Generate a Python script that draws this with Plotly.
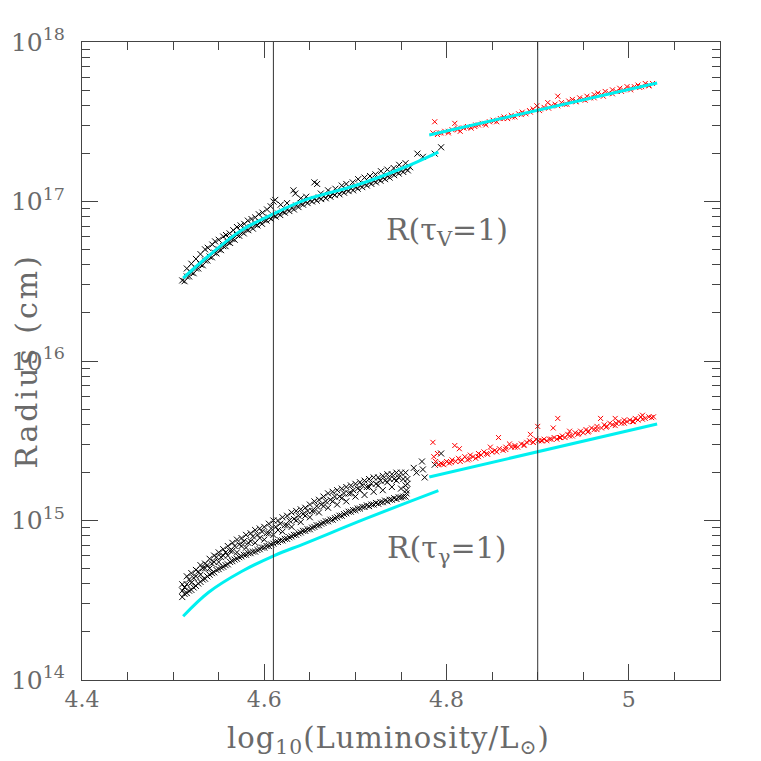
"""Radius of tau=1 surfaces versus luminosity."""

import plotly.graph_objects as go

# ---- data (x = log10 L/Lsun, values = log10 R/cm) ----

# upper black cloud, R(tau_V = 1): dense band along the model curve
vis_black_x1 = [4.510, 4.515, 4.520, 4.525, 4.530, 4.535, 4.540, 4.545, 4.550, 4.555,
                4.560, 4.565, 4.570, 4.575, 4.580, 4.585, 4.590, 4.595, 4.600, 4.605,
                4.610, 4.615, 4.620, 4.625, 4.630, 4.635, 4.640, 4.645, 4.650, 4.655,
                4.660, 4.665, 4.670, 4.675, 4.680, 4.685, 4.690, 4.695, 4.700, 4.705,
                4.710, 4.715, 4.720, 4.725, 4.730, 4.735, 4.740, 4.745, 4.750, 4.755,
                4.760]
vis_black_logr1 = [16.505, 16.53, 16.555, 16.58, 16.605, 16.63, 16.655, 16.68, 16.70, 16.72,
                   16.745, 16.765, 16.79, 16.81, 16.825, 16.84, 16.855, 16.87, 16.885, 16.90,
                   16.912, 16.925, 16.937, 16.95, 16.96, 16.975, 16.987, 17.00, 17.008, 17.016,
                   17.025, 17.033, 17.04, 17.05, 17.057, 17.065, 17.074, 17.082, 17.09, 17.10,
                   17.11, 17.12, 17.13, 17.14, 17.15, 17.16, 17.175, 17.185, 17.195, 17.205,
                   17.215]
vis_black_x2 = [4.5125, 4.5175, 4.5225, 4.5275, 4.5325, 4.5375, 4.5425, 4.5475, 4.5525, 4.5575,
                4.5625, 4.5675, 4.5725, 4.5775, 4.5825, 4.5875, 4.5925, 4.5975, 4.6025, 4.6075,
                4.6125, 4.6175, 4.6225, 4.6275, 4.6325, 4.6375, 4.6425, 4.6475, 4.6525, 4.6575,
                4.6625, 4.6675, 4.6725, 4.6775, 4.6825, 4.6875, 4.6925, 4.6975, 4.7025, 4.7075,
                4.7125, 4.7175, 4.7225, 4.7275, 4.7325, 4.7375, 4.7425, 4.7475, 4.7525, 4.7575]
vis_black_logr2 = [16.50, 16.53, 16.55, 16.58, 16.60, 16.63, 16.65, 16.675, 16.695, 16.72,
                   16.74, 16.76, 16.785, 16.80, 16.82, 16.83, 16.85, 16.86, 16.88, 16.89,
                   16.905, 16.915, 16.93, 16.94, 16.95, 16.965, 16.98, 16.99, 17.00, 17.005,
                   17.015, 17.02, 17.03, 17.04, 17.045, 17.055, 17.065, 17.07, 17.08, 17.09,
                   17.10, 17.11, 17.12, 17.13, 17.14, 17.15, 17.165, 17.175, 17.185, 17.195]
# points scattered above the band
vis_black_x3 = [4.515, 4.520, 4.525, 4.530, 4.535, 4.538, 4.543, 4.546, 4.550, 4.555,
                4.558, 4.562, 4.566, 4.570, 4.574, 4.578, 4.582, 4.586, 4.590, 4.594,
                4.598, 4.603, 4.607, 4.610, 4.612, 4.618, 4.625, 4.632, 4.634, 4.640,
                4.646, 4.655, 4.658, 4.662, 4.670, 4.678, 4.685, 4.690, 4.697, 4.703,
                4.710, 4.716, 4.722, 4.728, 4.735, 4.742, 4.748, 4.755, 4.768, 4.774,
                4.787, 4.794]
vis_black_logr3 = [16.58, 16.61, 16.64, 16.67, 16.70, 16.71, 16.73, 16.75, 16.76, 16.78,
                   16.79, 16.80, 16.82, 16.84, 16.85, 16.86, 16.88, 16.89, 16.90, 16.92,
                   16.93, 16.95, 16.97, 17.00, 17.01, 16.98, 16.99, 17.07, 17.05, 17.02,
                   17.03, 17.12, 17.11, 17.05, 17.07, 17.08, 17.10, 17.11, 17.12, 17.14,
                   17.15, 17.16, 17.17, 17.19, 17.20, 17.21, 17.23, 17.24, 17.30, 17.28,
                   17.30, 17.34]

# upper red cloud, R(tau_V = 1)
vis_red_x = [4.785, 4.787, 4.790, 4.794, 4.798, 4.802, 4.806, 4.809, 4.812, 4.815,
             4.819, 4.823, 4.827, 4.831, 4.835, 4.839, 4.843, 4.847, 4.851, 4.855,
             4.859, 4.863, 4.867, 4.871, 4.875, 4.879, 4.883, 4.887, 4.891, 4.895,
             4.899, 4.903, 4.907, 4.911, 4.915, 4.919, 4.922, 4.926, 4.930, 4.934,
             4.938, 4.942, 4.946, 4.950, 4.954, 4.958, 4.962, 4.966, 4.970, 4.974,
             4.978, 4.982, 4.986, 4.990, 4.994, 4.998, 5.002, 5.006, 5.010, 5.014,
             5.018, 5.022, 5.026,
             4.792, 4.802, 4.812, 4.822, 4.832, 4.842, 4.852, 4.862, 4.872, 4.882,
             4.892, 4.902, 4.912, 4.922, 4.932, 4.942, 4.952, 4.962, 4.972, 4.982,
             4.992, 5.002, 5.012, 5.022]
vis_red_logr = [17.43, 17.50, 17.42, 17.43, 17.44, 17.43, 17.45, 17.49, 17.46, 17.44,
                17.46, 17.47, 17.46, 17.47, 17.48, 17.49, 17.48, 17.50, 17.51, 17.50,
                17.52, 17.53, 17.52, 17.54, 17.53, 17.55, 17.56, 17.55, 17.57, 17.58,
                17.60, 17.58, 17.59, 17.62, 17.60, 17.61, 17.66, 17.62, 17.61, 17.63,
                17.64, 17.63, 17.65, 17.64, 17.66, 17.65, 17.67, 17.68, 17.67, 17.69,
                17.68, 17.70, 17.69, 17.71, 17.70, 17.72, 17.71, 17.72, 17.73, 17.72,
                17.74, 17.73, 17.74,
                17.43, 17.44, 17.45, 17.465, 17.48, 17.49, 17.505, 17.52, 17.53, 17.545,
                17.56, 17.57, 17.585, 17.60, 17.61, 17.625, 17.635, 17.65, 17.66, 17.675,
                17.69, 17.70, 17.715, 17.725]

# lower black cloud, R(tau_gamma = 1)
gam_black_x1 = [4.510, 4.515, 4.520, 4.525, 4.530, 4.535, 4.540, 4.545, 4.550, 4.555,
                4.560, 4.565, 4.570, 4.575, 4.580, 4.585, 4.590, 4.595, 4.600, 4.605,
                4.610, 4.615, 4.620, 4.625, 4.630, 4.635, 4.640, 4.645, 4.650, 4.655,
                4.660, 4.665, 4.670, 4.675, 4.680, 4.685, 4.690, 4.695, 4.700, 4.705,
                4.710, 4.715, 4.720, 4.725, 4.730, 4.735, 4.740, 4.745, 4.750, 4.755]
# lower (densest) edge
gam_black_edge = [14.52, 14.545, 14.565, 14.59, 14.615, 14.635, 14.66, 14.675, 14.695, 14.71,
                  14.725, 14.745, 14.76, 14.775, 14.785, 14.795, 14.805, 14.82, 14.83, 14.84,
                  14.855, 14.865, 14.875, 14.885, 14.90, 14.91, 14.925, 14.935, 14.945, 14.96,
                  14.97, 14.985, 14.995, 15.005, 15.02, 15.03, 15.045, 15.055, 15.065, 15.075,
                  15.085, 15.09, 15.10, 15.105, 15.115, 15.12, 15.13, 15.135, 15.145, 15.15]
# middle of the cloud
gam_black_mid = [14.56, 14.60, 14.61, 14.65, 14.66, 14.70, 14.70, 14.74, 14.74, 14.78,
                 14.78, 14.81, 14.80, 14.84, 14.83, 14.87, 14.86, 14.89, 14.88, 14.92,
                 14.91, 14.94, 14.93, 14.97, 14.96, 15.00, 14.99, 15.03, 15.02, 15.06,
                 15.05, 15.09, 15.08, 15.12, 15.10, 15.14, 15.12, 15.17, 15.15, 15.19,
                 15.16, 15.21, 15.18, 15.22, 15.19, 15.24, 15.21, 15.25, 15.20, 15.22]
# upper part of the cloud
gam_black_top = [14.60, 14.65, 14.67, 14.69, 14.72, 14.73, 14.76, 14.78, 14.80, 14.82,
                 14.84, 14.86, 14.88, 14.89, 14.91, 14.92, 14.94, 14.95, 14.96, 14.98,
                 15.00, 15.00, 15.02, 15.03, 15.05, 15.06, 15.07, 15.08, 15.10, 15.12,
                 15.13, 15.15, 15.17, 15.18, 15.19, 15.20, 15.21, 15.22, 15.23, 15.24,
                 15.25, 15.26, 15.27, 15.27, 15.28, 15.29, 15.29, 15.30, 15.30, 15.30]
gam_black_x2 = [4.5125, 4.5175, 4.5225, 4.5275, 4.5325, 4.5375, 4.5425, 4.5475, 4.5525, 4.5575,
                4.5625, 4.5675, 4.5725, 4.5775, 4.5825, 4.5875, 4.5925, 4.5975, 4.6025, 4.6075,
                4.6125, 4.6175, 4.6225, 4.6275, 4.6325, 4.6375, 4.6425, 4.6475, 4.6525, 4.6575,
                4.6625, 4.6675, 4.6725, 4.6775, 4.6825, 4.6875, 4.6925, 4.6975, 4.7025, 4.7075,
                4.7125, 4.7175, 4.7225, 4.7275, 4.7325, 4.7375, 4.7425, 4.7475, 4.7525]
gam_black_edge2 = [14.54, 14.56, 14.58, 14.605, 14.63, 14.65, 14.67, 14.69, 14.705, 14.72,
                   14.74, 14.755, 14.77, 14.785, 14.795, 14.805, 14.815, 14.83, 14.84, 14.85,
                   14.865, 14.875, 14.885, 14.895, 14.91, 14.92, 14.935, 14.945, 14.955, 14.97,
                   14.98, 14.995, 15.005, 15.015, 15.03, 15.04, 15.055, 15.065, 15.075, 15.085,
                   15.095, 15.10, 15.11, 15.115, 15.125, 15.13, 15.14, 15.145, 15.15]
gam_black_scatter = [14.58, 14.63, 14.64, 14.68, 14.70, 14.72, 14.73, 14.77, 14.77, 14.80,
                     14.81, 14.84, 14.85, 14.87, 14.86, 14.90, 14.91, 14.93, 14.92, 14.95,
                     14.96, 14.98, 14.97, 15.00, 15.01, 15.03, 15.04, 15.06, 15.06, 15.09,
                     15.10, 15.12, 15.13, 15.15, 15.15, 15.17, 15.17, 15.19, 15.20, 15.22,
                     15.21, 15.23, 15.23, 15.25, 15.25, 15.26, 15.26, 15.27, 15.26]
# vertical column near the end of the cloud and the few points beyond it
gam_black_x3 = [4.756, 4.756, 4.757, 4.757, 4.764, 4.767, 4.773, 4.774, 4.776, 4.787, 4.794]
gam_black_logr3 = [15.17, 15.19, 15.23, 15.26, 15.33, 15.30, 15.37, 15.32, 15.27, 15.35, 15.42]

# lower red cloud, R(tau_gamma = 1)
gam_red_x = [4.785, 4.786, 4.788, 4.790, 4.791, 4.794, 4.797, 4.800, 4.803, 4.806,
             4.809, 4.810, 4.813, 4.814, 4.817, 4.820, 4.823, 4.826, 4.829, 4.832,
             4.835, 4.838, 4.841, 4.844, 4.848, 4.850, 4.853, 4.857, 4.858, 4.862,
             4.865, 4.869, 4.871, 4.875, 4.878, 4.882, 4.885, 4.888, 4.891, 4.892,
             4.895, 4.898, 4.900, 4.901, 4.904, 4.907, 4.910, 4.913, 4.917, 4.918,
             4.921, 4.922, 4.924, 4.927, 4.930, 4.933, 4.935, 4.938, 4.941, 4.944,
             4.947, 4.950, 4.953, 4.956, 4.959, 4.962, 4.965, 4.969, 4.970, 4.973,
             4.976, 4.979, 4.982, 4.985, 4.986, 4.989, 4.992, 4.995, 4.998, 5.001,
             5.004, 5.007, 5.010, 5.013, 5.015, 5.018, 5.022, 5.027,
             4.795, 4.805, 4.815, 4.825, 4.835, 4.845, 4.855, 4.865, 4.875, 4.885,
             4.895, 4.905, 4.915, 4.925, 4.935, 4.945, 4.955, 4.965, 4.975, 4.985,
             4.995, 5.005, 5.015, 5.025]
gam_red_logr = [15.49, 15.40, 15.37, 15.42, 15.35, 15.36, 15.35, 15.37, 15.36, 15.38,
                15.47, 15.37, 15.39, 15.45, 15.38, 15.40, 15.38, 15.41, 15.40, 15.39,
                15.42, 15.41, 15.43, 15.42, 15.46, 15.43, 15.44, 15.52, 15.45, 15.44,
                15.46, 15.48, 15.46, 15.47, 15.46, 15.48, 15.47, 15.49, 15.50, 15.54,
                15.49, 15.51, 15.59, 15.50, 15.50, 15.51, 15.50, 15.51, 15.58, 15.52,
                15.51, 15.64, 15.52, 15.53, 15.52, 15.54, 15.56, 15.53, 15.55, 15.54,
                15.56, 15.55, 15.57, 15.56, 15.58, 15.57, 15.59, 15.64, 15.58, 15.60,
                15.59, 15.61, 15.60, 15.64, 15.61, 15.62, 15.61, 15.63, 15.62, 15.63,
                15.62, 15.64, 15.63, 15.65, 15.66, 15.64, 15.65, 15.65,
                15.355, 15.365, 15.37, 15.385, 15.40, 15.415, 15.43, 15.445, 15.46, 15.475,
                15.49, 15.50, 15.51, 15.52, 15.53, 15.545, 15.555, 15.57, 15.585, 15.595,
                15.61, 15.62, 15.635, 15.645]

# model curves (cyan)
vis_model1_x = [4.511, 4.539, 4.575, 4.611, 4.645, 4.700, 4.752, 4.791]
vis_model1_logr = [16.52, 16.66, 16.82, 16.925, 17.01, 17.10, 17.21, 17.31]
vis_model2_x = [4.781, 5.031]
vis_model2_logr = [17.417, 17.743]
gam_model1_x = [4.511, 4.539, 4.575, 4.611, 4.645, 4.712, 4.791]
gam_model1_logr = [14.40, 14.55, 14.68, 14.78, 14.857, 15.013, 15.187]
gam_model2_x = [4.781, 5.031]
gam_model2_logr = [15.273, 15.605]

# vertical reference lines
vlines_x = [4.61, 4.9]

TEXT = "#6a6a6a"
FRAME = "#444444"
FONT = "DejaVu Serif"


def pw(vals):
    return [10 ** v for v in vals]


fig = go.Figure()

black_sets = [
    (gam_black_x1, gam_black_edge), (gam_black_x1, gam_black_mid),
    (gam_black_x1, gam_black_top), (gam_black_x2, gam_black_edge2),
    (gam_black_x2, gam_black_scatter), (gam_black_x3, gam_black_logr3),
    (vis_black_x1, vis_black_logr1), (vis_black_x2, vis_black_logr2),
    (vis_black_x3, vis_black_logr3),
]
for xs, ys in black_sets:
    fig.add_trace(go.Scatter(
        x=xs, y=pw(ys), mode="markers",
        marker=dict(symbol="x-thin-open", size=6, color="black",
                    line=dict(color="black", width=1)),
        showlegend=False, hoverinfo="skip",
    ))

for xs, ys in [(gam_red_x, gam_red_logr), (vis_red_x, vis_red_logr)]:
    fig.add_trace(go.Scatter(
        x=xs, y=pw(ys), mode="markers",
        marker=dict(symbol="x-thin-open", size=5, color="red",
                    line=dict(color="red", width=1)),
        showlegend=False, hoverinfo="skip",
    ))

for xs, ys in [
    (vis_model1_x, vis_model1_logr),
    (vis_model2_x, vis_model2_logr),
    (gam_model1_x, gam_model1_logr),
    (gam_model2_x, gam_model2_logr),
]:
    fig.add_trace(go.Scatter(
        x=xs, y=pw(ys), mode="lines",
        line=dict(color="#00f0f0", width=3, shape="spline"),
        showlegend=False, hoverinfo="skip",
    ))

for xv in vlines_x:
    fig.add_shape(type="line", xref="x", yref="paper", x0=xv, x1=xv, y0=0, y1=1,
                  line=dict(color="#333333", width=1))

axis_common = dict(
    showline=True, linecolor=FRAME, linewidth=1, mirror="allticks",
    ticks="inside", tickcolor=FRAME, showgrid=False, zeroline=False,
    automargin=False,
)
fig.update_xaxes(range=[4.4, 5.1], dtick=0.2, tick0=4.4, ticklen=16,
                 tickfont=dict(family=FONT, size=22, color=TEXT),
                 minor=dict(ticks="inside", dtick=0.05, ticklen=8, tickcolor=FRAME),
                 **axis_common)
fig.update_yaxes(type="log", range=[14, 18], dtick=1, ticklen=16,
                 exponentformat="power", ticklabelstandoff=12,
                 tickfont=dict(family=FONT, size=20, color=TEXT),
                 minor=dict(ticks="inside", dtick="D1", ticklen=8, tickcolor=FRAME),
                 **axis_common)

fig.add_annotation(x=4.80, y=16.81, xref="x", yref="y", showarrow=False,
                   text="R(τ<sub>V</sub>=1)",
                   font=dict(family=FONT, size=30, color=TEXT))
fig.add_annotation(x=4.80, y=14.82, xref="x", yref="y", showarrow=False,
                   text="R(τ<sub>γ</sub>=1)",
                   font=dict(family=FONT, size=30, color=TEXT))
fig.add_annotation(x=-0.088, y=0.50, xref="paper", yref="paper", showarrow=False,
                   xanchor="center", yanchor="middle",
                   text="<span style='letter-spacing:3px'>Radius (cm)</span>",
                   textangle=-90,
                   font=dict(family=FONT, size=30, color=TEXT))
fig.add_annotation(x=0.48, y=-0.094, xref="paper", yref="paper", showarrow=False,
                   xanchor="center", yanchor="middle",
                   text="<span style='letter-spacing:1px'>log<sub>10</sub>(Luminosity/L<sub>⊙</sub>)</span>",
                   font=dict(family=FONT, size=29, color=TEXT))

# the page body adds an 8px offset, so the figure is drawn slightly smaller
fig.update_layout(
    width=753, height=753,
    margin=dict(l=74, r=41, t=34, b=81),
    plot_bgcolor="white", paper_bgcolor="white",
    showlegend=False,
)

fig.write_html("out.html")
